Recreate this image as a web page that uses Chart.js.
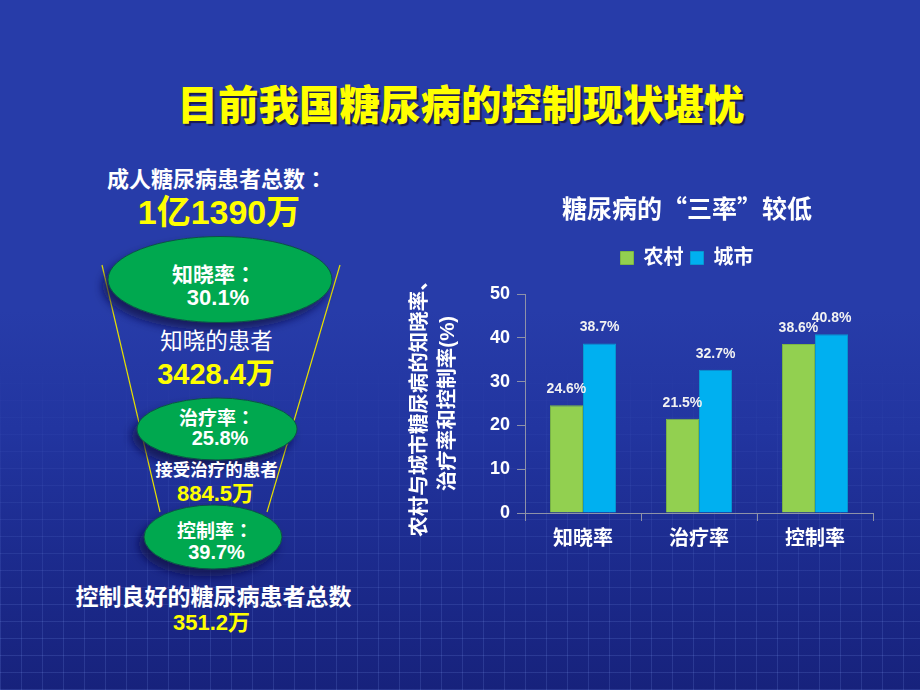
<!DOCTYPE html>
<html>
<head>
<meta charset="utf-8">
<script src="https://cdn.jsdelivr.net/npm/chart.js@4.4.1/dist/chart.umd.min.js"></script>
<style>
html,body{margin:0;padding:0;width:920px;height:690px;overflow:hidden;}
#stage{position:relative;width:920px;height:690px;overflow:hidden;
  background:linear-gradient(to bottom,#273ca9 0%,#273ca9 45%,#2235a0 62%,#1c2b8e 80%,#17227c 100%);
  font-family:"Liberation Sans","Noto Sans CJK SC",sans-serif;}
#mesh{position:absolute;left:0;top:0;width:920px;height:690px;
  background:
   repeating-linear-gradient(90deg,rgba(140,170,255,0.16) 0 1px,transparent 1px 21px),
   repeating-linear-gradient(0deg,rgba(140,170,255,0.16) 0 1px,transparent 1px 17px);
  -webkit-mask-image:linear-gradient(to bottom,transparent 0%,transparent 52%,rgba(0,0,0,0.5) 72%,#000 92%);
  mask-image:linear-gradient(to bottom,transparent 0%,transparent 52%,rgba(0,0,0,0.5) 72%,#000 92%);}
.t{position:absolute;width:340px;text-align:center;white-space:nowrap;
  font-family:"Liberation Sans","Noto Sans CJK SC",sans-serif;}
.c{font-family:"Noto Sans CJK JP",sans-serif;}
#deco{position:absolute;left:0;top:0;}
#chartWrap{position:absolute;left:403px;top:180px;width:568px;height:380px;}
</style>
</head>
<body>
<div id="stage">
  <div id="mesh"></div>
  <div class="t" style="left:0px;width:922px;top:78px;height:50px;line-height:50px;font-size:40.5px;font-weight:900;color:#ffff00;text-shadow:2px 2px 1px #1a1a50;font-family:'Noto Sans CJK SC',sans-serif;">目前我国糖尿病的控制现状堪忧</div>

  <svg id="deco" width="920" height="690">
    <defs>
      <filter id="sh" x="-30%" y="-30%" width="160%" height="180%">
        <feDropShadow dx="-5" dy="7" stdDeviation="5" flood-color="#0a0f45" flood-opacity="0.75"/>
      </filter>
    </defs>
    <line x1="102" y1="265" x2="160" y2="512" stroke="#e6e000" stroke-width="1.2"/>
    <line x1="340" y1="265" x2="267" y2="512" stroke="#e6e000" stroke-width="1.2"/>
    <ellipse cx="220" cy="279.5" rx="112" ry="43" fill="#00a84f" stroke="#0d4f48" stroke-width="1" filter="url(#sh)"/>
    <ellipse cx="217" cy="429" rx="80" ry="31" fill="#00a84f" stroke="#0d4f48" stroke-width="1" filter="url(#sh)"/>
    <ellipse cx="213" cy="537" rx="69" ry="32" fill="#00a84f" stroke="#0d4f48" stroke-width="1" filter="url(#sh)"/>
  </svg>

  <div class="t" style="left:47px;top:162px;height:30px;line-height:30px;font-size:22px;font-weight:bold;color:#fff;">成人糖尿病患者总数<span class="c">：</span></div>
  <div class="t" style="left:49px;top:192px;height:40px;line-height:40px;font-size:34px;font-weight:bold;color:#ffff00;">1亿1390万</div>
  <div class="t" style="left:44px;top:259px;height:28px;line-height:28px;font-size:21px;font-weight:bold;color:#fff;">知晓率<span class="c">：</span></div>
  <div class="t" style="left:48px;top:284px;height:28px;line-height:28px;font-size:22px;font-weight:bold;color:#fff;">30.1%</div>
  <div class="t" style="left:46.5px;top:327px;height:30px;line-height:30px;font-size:22.5px;font-weight:normal;color:#fff;">知晓的患者</div>
  <div class="t" style="left:46px;top:357px;height:34px;line-height:34px;font-size:29px;font-weight:bold;color:#ffff00;">3428.4万</div>
  <div class="t" style="left:47px;top:404px;height:26px;line-height:26px;font-size:19px;font-weight:bold;color:#fff;">治疗率<span class="c">：</span></div>
  <div class="t" style="left:50px;top:425px;height:26px;line-height:26px;font-size:20px;font-weight:bold;color:#fff;">25.8%</div>
  <div class="t" style="left:46.5px;top:458px;height:24px;line-height:24px;font-size:17.5px;font-weight:bold;color:#fff;">接受治疗的患者</div>
  <div class="t" style="left:45.5px;top:480px;height:28px;line-height:28px;font-size:22px;font-weight:bold;color:#ffff00;">884.5万</div>
  <div class="t" style="left:45px;top:517px;height:26px;line-height:26px;font-size:19px;font-weight:bold;color:#fff;">控制率<span class="c">：</span></div>
  <div class="t" style="left:46.5px;top:539px;height:26px;line-height:26px;font-size:20px;font-weight:bold;color:#fff;">39.7%</div>
  <div class="t" style="left:43.5px;top:582px;height:30px;line-height:30px;font-size:23px;font-weight:bold;color:#fff;">控制良好的糖尿病患者总数</div>
  <div class="t" style="left:41.5px;top:609px;height:28px;line-height:28px;font-size:22px;font-weight:bold;color:#ffff00;">351.2万</div>

  <div id="chartWrap"><canvas id="c" width="568" height="380"></canvas></div>
</div>
<script>
// ---- data ----
const categories = ['知晓率', '治疗率', '控制率'];
const seriesNames = ['农村', '城市'];
const ruralValues = [24.6, 21.5, 38.6];
const urbanValues = [38.7, 32.7, 40.8];
const yTicks = [0, 10, 20, 30, 40, 50];
const chartTitle = '糖尿病的“三率”较低';
const yTitle = ['农村与城市糖尿病的知晓率、', '治疗率和控制率(%)'];

const FONT = '"Liberation Sans","Noto Sans CJK SC",sans-serif';
const CJK = '"Noto Sans CJK SC",sans-serif';
const GRAY = '#8e92a8';

const valueLabels = {
  id: 'valueLabels',
  afterDatasetsDraw(chart) {
    const ctx = chart.ctx;
    ctx.save();
    ctx.font = 'bold 14px ' + FONT;
    ctx.fillStyle = '#f2f2f2';
    ctx.textAlign = 'center';
    ctx.textBaseline = 'middle';
    chart.data.datasets.forEach((ds, i) => {
      const meta = chart.getDatasetMeta(i);
      meta.data.forEach((bar, j) => {
        ctx.fillText(ds.data[j].toFixed(1) + '%', bar.x, bar.y - 16);
      });
    });
    ctx.restore();
  }
};

new Chart(document.getElementById('c'), {
  type: 'bar',
  data: {
    labels: categories,
    datasets: [
      { label: seriesNames[0], data: ruralValues, backgroundColor: '#92d050', borderColor: '#7db842', borderWidth: 1, xAxisID: 'x', yAxisID: 'y', categoryPercentage: 0.57, barPercentage: 1.0 },
      { label: seriesNames[1], data: urbanValues, backgroundColor: '#00b0f0', borderColor: '#0898d0', borderWidth: 1, xAxisID: 'x', yAxisID: 'y', categoryPercentage: 0.57, barPercentage: 1.0 }
    ]
  },
  options: {
    responsive: false,
    animation: false,
    layout: { padding: { top: 4, bottom: 3, left: 0, right: 0 } },
    plugins: {
      title: { display: true, text: chartTitle, color: '#ffffff', font: { family: CJK, size: 25, weight: 'bold' }, padding: { top: 9, bottom: 18 } },
      legend: { display: true, position: 'top', labels: { color: '#ffffff', font: { family: FONT, size: 20, weight: 'bold' }, boxWidth: 13, boxHeight: 13, padding: 7 } },
      tooltip: { enabled: false }
    },
    scales: {
      x: {
        type: 'category', position: 'bottom',
        grid: { display: true, drawOnChartArea: false, drawTicks: true, tickLength: 8, color: GRAY, offset: true },
        border: { display: true, color: GRAY, width: 1 },
        ticks: { color: '#ffffff', font: { family: FONT, size: 20, weight: 'bold' }, padding: 6 }
      },
      y: {
        type: 'linear', position: 'left', min: 0, max: 50,
        afterBuildTicks(s) { s.ticks = yTicks.map(v => ({ value: v })); },
        ticks: { color: '#ffffff', font: { family: FONT, size: 18, weight: 'bold' }, padding: 7 },
        grid: { display: true, drawOnChartArea: false, drawTicks: true, tickLength: 8, color: GRAY },
        border: { display: true, color: GRAY, width: 1 },
        title: { display: true, text: yTitle, color: '#ffffff', font: { family: FONT, size: 20.5, weight: 'bold', lineHeight: 1.35 }, padding: { top: 4, bottom: 4 } },
        afterFit(s) { s.width = 122; }
      },
      yRightSpace: {
        type: 'linear', position: 'right', display: true,
        grid: { display: false, drawTicks: false }, border: { display: false }, ticks: { display: false },
        afterFit(s) { s.width = 98; }
      },
      xTopSpace: {
        type: 'linear', position: 'top', display: true,
        grid: { display: false, drawTicks: false }, border: { display: false }, ticks: { display: false },
        afterFit(s) { s.height = 16; }
      }
    }
  },
  plugins: [valueLabels]
});
</script>
</body>
</html>
